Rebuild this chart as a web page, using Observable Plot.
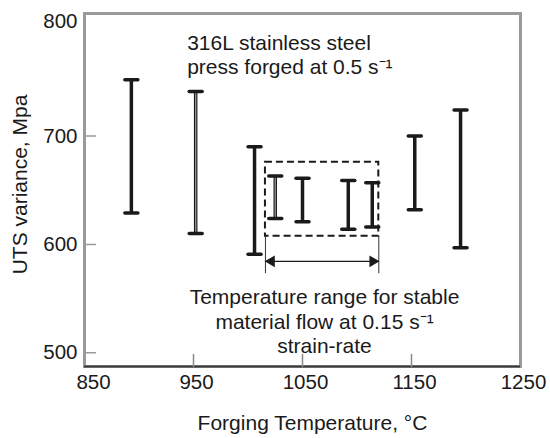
<!DOCTYPE html>
<html>
<head>
<meta charset="utf-8">
<script src="https://cdn.jsdelivr.net/npm/d3@7"></script>
<script src="https://cdn.jsdelivr.net/npm/@observablehq/plot@0.6"></script>
<style>
  html, body { margin: 0; padding: 0; background: #fff; }
</style>
</head>
<body>
<div id="chart"></div>
<script>
// ---- data ----
const temps   = [893, 952, 1006, 1025, 1050, 1092, 1114, 1153, 1195];
const utsHigh = [752, 741, 690, 663, 661, 659, 657, 700, 724];
const utsLow  = [629, 610, 591, 624, 621, 614, 616, 632, 597];

const xTicks = [850, 950, 1050, 1150, 1250];
const yTicks = [500, 600, 700, 800];
const xDomain = [850, 1250];
const yDomain = [487.4, 813];

// stable-flow window annotation
const stableRange = [1016, 1120];
const stableBox = [607.5, 675.7];
const arrowLevel = 584.4;
const markerBottom = 573;

const note1 = ["316L stainless steel", "press forged at 0.5 s\u207B\u00B9"];
const note1Pos = [944.2, 795.4];
const note2 = ["Temperature range for stable", "material flow at 0.15 s\u207B\u00B9", "strain-rate"];
const note2Pos = [1070.2, 560.5];
const xLabel = "Forging Temperature, \u00B0C";
const yLabel = "UTS variance, Mpa";

// ---- styling ----
const FONT = '"Liberation Sans", Arial, Helvetica, sans-serif';
const INK = "#1a1a1a";
const outlinedBars = new Set([1, 3]);

const rows = temps.map((t, i) => ({t, lo: utsLow[i], hi: utsHigh[i], i}));
const lineShape = {draw(ctx, l) { ctx.moveTo(0, 0); ctx.lineTo(0, -l); }};
const fmt = d3.format("d");

const chart = Plot.plot({
  width: 550,
  height: 438,
  marginLeft: 84,
  marginRight: 30,
  marginTop: 13,
  marginBottom: 72,
  x: {domain: xDomain},
  y: {domain: yDomain},
  style: {fontFamily: FONT, fontSize: "21px", color: INK, background: "#fff"},
  marks: [
    Plot.frame({stroke: "#9a9a9a", strokeWidth: 3}),
    Plot.ruleY([yDomain[0]], {stroke: "#3a3a3a", strokeWidth: 2}),
    // inward ticks
    Plot.vector(xTicks.slice(1, -1), {x: d => d, y: yDomain[0], length: 12, rotate: 0, anchor: "start", shape: lineShape, stroke: "#8a8a8a", strokeWidth: 1.5}),
    Plot.vector(yTicks.slice(0, -1), {x: xDomain[0], y: d => d, length: 11, rotate: 90, anchor: "start", shape: lineShape, stroke: "#9a9a9a", strokeWidth: 1.5}),
    // axes labels
    Plot.axisX(xTicks.slice(1), {tickSize: 0, tickPadding: 8, dx: 3, fontSize: 20.5, label: null, tickFormat: fmt}),
    Plot.axisX(xTicks.slice(0, 1), {tickSize: 0, tickPadding: 8, dx: 9, fontSize: 20.5, label: null, tickFormat: fmt}),
    Plot.axisY(yTicks.slice(0, -1), {tickSize: 0, tickPadding: 7, fontSize: 20.5, label: null, tickFormat: fmt}),
    Plot.axisY(yTicks.slice(-1), {tickSize: 0, tickPadding: 7, dy: -6, fontSize: 20.5, label: null, tickFormat: fmt}),
    Plot.text([xLabel], {frameAnchor: "bottom", dy: 56.6, dx: 10, textAnchor: "middle", lineAnchor: "middle", fontSize: 21, fill: INK}),
    Plot.text([yLabel], {frameAnchor: "left", rotate: -90, dx: -64, dy: -5.5, textAnchor: "middle", lineAnchor: "middle", fontSize: 21, fill: INK}),
    // stable window: dashed box, markers and arrow
    Plot.rect([stableRange], {x1: d => d[0], x2: d => d[1], y1: stableBox[0], y2: stableBox[1], fill: "none", stroke: INK, strokeWidth: 2, strokeDasharray: "7,4"}),
    Plot.ruleX(stableRange, {x: d => d, y1: markerBottom, y2: stableBox[0], stroke: "#333", strokeWidth: 1}),
    Plot.ruleY([arrowLevel], {x1: stableRange[0], x2: stableRange[1], stroke: INK, strokeWidth: 1.2}),
    Plot.dot(stableRange.slice(0, 1), {x: d => d, y: arrowLevel, symbol: "triangle", r: 4.3, fill: INK, stroke: "none", rotate: -90, dx: 6}),
    Plot.dot(stableRange.slice(1), {x: d => d, y: arrowLevel, symbol: "triangle", r: 4.3, fill: INK, stroke: "none", rotate: 90, dx: -6}),
    // error bars
    Plot.ruleX(rows, {x: "t", y1: "lo", y2: "hi", stroke: INK, strokeWidth: 3.5}),
    Plot.ruleX(rows.filter(r => outlinedBars.has(r.i)), {x: "t", y1: "lo", y2: "hi", stroke: "#8c8c8c", strokeWidth: 1.4}),
    Plot.vector(rows, {x: "t", y: "hi", length: 13, rotate: 90, anchor: "middle", shape: lineShape, stroke: INK, strokeWidth: 3.5}),
    Plot.vector(rows, {x: "t", y: "lo", length: 13, rotate: 90, anchor: "middle", shape: lineShape, stroke: INK, strokeWidth: 3.5}),
    // annotations
    Plot.text([note1.join("\n")], {x: note1Pos[0], y: note1Pos[1], textAnchor: "start", lineAnchor: "top", lineHeight: 1.14, fontSize: 21, fill: INK}),
    Plot.text([note2.join("\n")], {x: note2Pos[0], y: note2Pos[1], textAnchor: "middle", lineAnchor: "top", lineHeight: 1.15, fontSize: 21, fill: INK})
  ]
});
document.getElementById("chart").append(chart);
</script>
</body>
</html>
